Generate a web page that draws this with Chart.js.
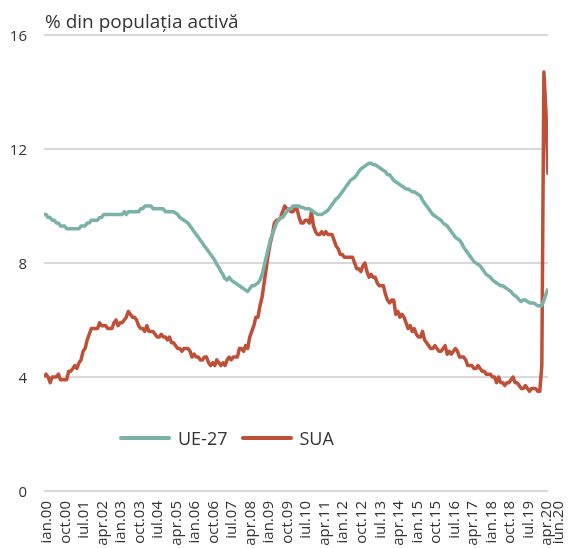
<!DOCTYPE html>
<html>
<head>
<meta charset="utf-8">
<script src="https://cdn.jsdelivr.net/npm/chart.js@4.4.1/dist/chart.umd.min.js"></script>
<style>
html, body { margin: 0; padding: 0; background: #fff; }
#wrap { position: relative; width: 571px; height: 548px; font-family: 'Open Sans', sans-serif; color: #333; }
#title { position: absolute; left: 45px; top: 12px; font-size: 19px; line-height: 19px; white-space: nowrap; }
#legend { position: absolute; left: 119px; top: 427px; height: 22px; display: flex; align-items: center; font-size: 18px; line-height: 18px; }
.item { display: flex; align-items: center; margin-right: 13px; }
.swatch { width: 52px; height: 4px; border-radius: 2px; margin-right: 7px; }
canvas { position: absolute; left: 0; top: 0; }
</style>
</head>
<body>
<div id="wrap">
<canvas id="myChart" width="571" height="548"></canvas>
<div id="title">% din populația activă</div>
<div id="legend"></div>
</div>
<script>
// etichete axa X (din 9 in 9 luni, plus ultima luna)
const tickLabels = ['ian.00','oct.00','iul.01','apr.02','ian.03','oct.03','iul.04','apr.05','ian.06','oct.06',
  'iul.07','apr.08','ian.09','oct.09','iul.10','apr.11','ian.12','oct.12','iul.13','apr.14',
  'ian.15','oct.15','iul.16','apr.17','ian.18','oct.18','iul.19','apr.20','iun.20'];
const yTicks = [0, 4, 8, 12, 16];

// UE-27, lunar ian.2000 - iun.2020
const euValues = [
  9.7, 9.7, 9.6, 9.6, 9.5, 9.5, 9.4, 9.4, 9.3, 9.3, 9.3, 9.2,
  9.2, 9.2, 9.2, 9.2, 9.2, 9.2, 9.3, 9.3, 9.3, 9.4, 9.4, 9.5,
  9.5, 9.5, 9.5, 9.6, 9.6, 9.7, 9.7, 9.7, 9.7, 9.7, 9.7, 9.7,
  9.7, 9.7, 9.7, 9.8, 9.7, 9.8, 9.8, 9.8, 9.8, 9.8, 9.8, 9.9,
  9.9, 10.0, 10.0, 10.0, 10.0, 9.9, 9.9, 9.9, 9.9, 9.9, 9.9, 9.8,
  9.8, 9.8, 9.8, 9.8, 9.75, 9.7, 9.6, 9.55, 9.5, 9.45, 9.4, 9.3,
  9.2, 9.1, 9.0, 8.9, 8.8, 8.7, 8.6, 8.5, 8.4, 8.3, 8.2, 8.1,
  7.95, 7.85, 7.7, 7.6, 7.45, 7.4, 7.5, 7.4, 7.35, 7.3, 7.25, 7.2,
  7.15, 7.1, 7.05, 7.0, 7.1, 7.2, 7.2, 7.25, 7.3, 7.4, 7.6, 7.9,
  8.2, 8.5, 8.8, 9.0, 9.2, 9.4, 9.5, 9.6, 9.6, 9.7, 9.8, 9.9,
  9.9, 10.0, 10.0, 10.0, 10.0, 9.95, 9.95, 9.9, 9.9, 9.9, 9.85, 9.8,
  9.75, 9.7, 9.7, 9.7, 9.75, 9.8, 9.85, 9.95, 10.05, 10.15, 10.25, 10.3,
  10.4, 10.5, 10.6, 10.7, 10.8, 10.9, 10.95, 11.0, 11.1, 11.2, 11.3, 11.35,
  11.4, 11.45, 11.5, 11.5, 11.45, 11.45, 11.4, 11.35, 11.3, 11.25, 11.2, 11.1,
  11.1, 11.0, 10.9, 10.85, 10.8, 10.75, 10.7, 10.65, 10.6, 10.6, 10.55, 10.5,
  10.5, 10.45, 10.4, 10.35, 10.2, 10.1, 10.0, 9.9, 9.8, 9.7, 9.65, 9.6,
  9.55, 9.5, 9.4, 9.35, 9.3, 9.2, 9.1, 9.0, 8.9, 8.85, 8.8, 8.7,
  8.55, 8.45, 8.35, 8.25, 8.15, 8.05, 8.0, 7.95, 7.9, 7.8, 7.7, 7.6,
  7.55, 7.5, 7.4, 7.35, 7.3, 7.25, 7.2, 7.2, 7.15, 7.1, 7.05, 7.0,
  6.9, 6.85, 6.8, 6.7, 6.65, 6.7, 6.7, 6.65, 6.6, 6.6, 6.6, 6.55,
  6.5, 6.5, 6.5, 6.7, 6.9, 7.1
];

// SUA, lunar ian.2000 - iun.2020
const usValues = [
  4.0, 4.1, 4.0, 3.8, 4.0, 4.0, 4.0, 4.1, 3.9, 3.9, 3.9, 3.9,
  4.2, 4.2, 4.3, 4.4, 4.3, 4.5, 4.6, 4.9, 5.0, 5.3, 5.5, 5.7,
  5.7, 5.7, 5.7, 5.9, 5.8, 5.8, 5.8, 5.7, 5.7, 5.7, 5.9, 6.0,
  5.8, 5.9, 5.9, 6.0, 6.1, 6.3, 6.2, 6.1, 6.1, 6.0, 5.8, 5.7,
  5.7, 5.6, 5.8, 5.6, 5.6, 5.6, 5.5, 5.4, 5.4, 5.5, 5.4, 5.4,
  5.3, 5.4, 5.2, 5.2, 5.1, 5.0, 5.0, 4.9, 5.0, 5.0, 5.0, 4.9,
  4.7, 4.8, 4.7, 4.7, 4.6, 4.6, 4.7, 4.7, 4.5, 4.4, 4.5, 4.4,
  4.6, 4.5, 4.4, 4.5, 4.4, 4.6, 4.7, 4.6, 4.7, 4.7, 4.7, 5.0,
  5.0, 4.9, 5.1, 5.0, 5.4, 5.6, 5.8, 6.1, 6.1, 6.5, 6.8, 7.3,
  7.8, 8.3, 8.7, 9.0, 9.4, 9.5, 9.5, 9.6, 9.8, 10.0, 9.9, 9.9,
  9.8, 9.8, 9.9, 9.9, 9.6, 9.4, 9.4, 9.5, 9.5, 9.4, 9.8, 9.3,
  9.1, 9.0, 9.0, 9.1, 9.0, 9.1, 9.0, 9.0, 9.0, 8.8, 8.6, 8.5,
  8.3, 8.3, 8.2, 8.2, 8.2, 8.2, 8.2, 8.0, 7.8, 7.8, 7.7, 7.9,
  8.0, 7.7, 7.5, 7.6, 7.5, 7.5, 7.3, 7.2, 7.2, 7.2, 6.9, 6.7,
  6.6, 6.7, 6.7, 6.2, 6.3, 6.1, 6.2, 6.1, 5.9, 5.7, 5.8, 5.6,
  5.7, 5.5, 5.4, 5.4, 5.6, 5.3, 5.2, 5.1, 5.0, 5.0, 5.1, 5.0,
  4.9, 4.9, 5.0, 5.1, 4.8, 4.9, 4.8, 4.9, 5.0, 4.9, 4.7, 4.7,
  4.7, 4.6, 4.4, 4.4, 4.4, 4.3, 4.3, 4.4, 4.3, 4.2, 4.2, 4.1,
  4.1, 4.1, 4.0, 4.0, 3.8, 4.0, 3.8, 3.8, 3.7, 3.8, 3.8, 3.9,
  4.0, 3.8, 3.8, 3.7, 3.6, 3.6, 3.7, 3.6, 3.5, 3.6, 3.6, 3.6,
  3.5, 3.5, 4.4, 14.7, 13.3, 11.1
];

// pozitia etichetelor pe axa (luna); ultima e impinsa putin la dreapta ca in original
const tickMonths = tickLabels.map((l, i) => i < tickLabels.length - 1 ? i * 9 : 249);

const textColor = '#333';
const series = [
  { label: 'UE-27', values: euValues, color: '#7ab2a8' },
  { label: 'SUA', values: usValues, color: '#be5038' }
];

const datasets = series.map(s => ({
  label: s.label,
  data: s.values.map((v, i) => ({ x: i, y: v })),
  borderColor: s.color,
  borderWidth: 3.5,
  pointRadius: 0,
  tension: 0,
  borderJoinStyle: 'round',
  fill: false
}));

const chart = new Chart(document.getElementById('myChart'), {
  type: 'line',
  data: { datasets: datasets },
  options: {
    responsive: false,
    animation: false,
    layout: { padding: { left: 10, right: 23, top: 35, bottom: 0 } },
    plugins: { legend: { display: false }, tooltip: { enabled: false } },
    scales: {
      x: {
        type: 'linear',
        min: 0,
        max: euValues.length - 1,
        grid: { display: false, drawTicks: false },
        border: { display: false },
        afterBuildTicks: function(scale) {
          scale.ticks = tickMonths.map(v => ({ value: v }));
        },
        afterFit: function(scale) {
          scale.height = 57;
          scale.paddingLeft = 0;
          scale.paddingRight = 0;
        },
        ticks: {
          autoSkip: false,
          minRotation: 90,
          maxRotation: 90,
          padding: 10,
          labelOffset: 3,
          color: textColor,
          font: { family: 'Open Sans', size: 15 },
          callback: function(value) {
            const k = tickMonths.indexOf(value);
            return k >= 0 ? tickLabels[k] : '';
          }
        }
      },
      y: {
        min: 0,
        max: 16,
        afterBuildTicks: function(scale) {
          scale.ticks = yTicks.map(v => ({ value: v }));
        },
        afterFit: function(scale) {
          scale.width = 34;
          scale.paddingTop = 0;
          scale.paddingBottom = 0;
        },
        grid: { color: '#d9d9d9', lineWidth: 2, drawTicks: false },
        border: { display: false },
        ticks: {
          padding: 17,
          labelOffset: 2,
          color: textColor,
          font: { family: 'Open Sans', size: 15 }
        }
      }
    }
  }
});

// legenda in interiorul graficului
const legend = document.getElementById('legend');
chart.data.datasets.forEach(ds => {
  const item = document.createElement('div');
  item.className = 'item';
  const sw = document.createElement('span');
  sw.className = 'swatch';
  sw.style.background = ds.borderColor;
  const txt = document.createElement('span');
  txt.textContent = ds.label;
  item.appendChild(sw);
  item.appendChild(txt);
  legend.appendChild(item);
});
</script>
</body>
</html>
